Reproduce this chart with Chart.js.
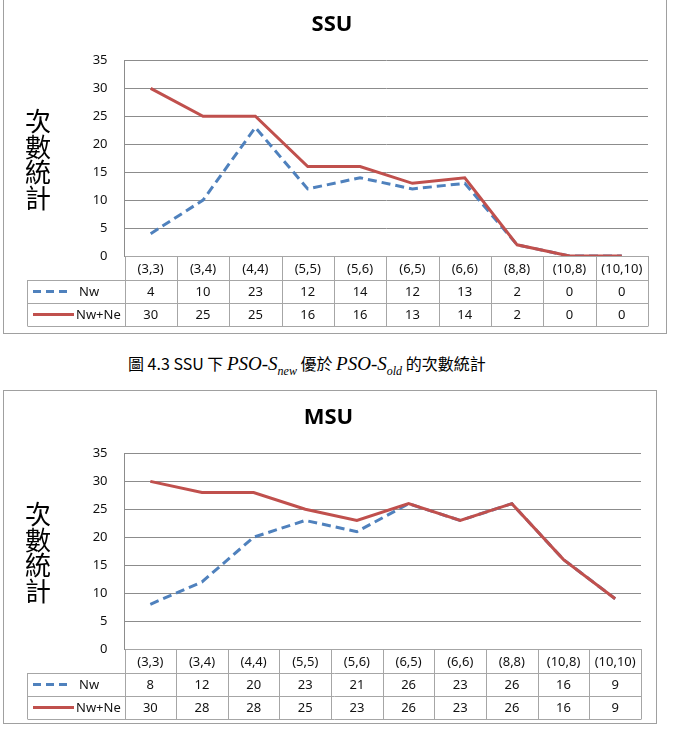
<!DOCTYPE html>
<html>
<head>
<meta charset="utf-8">
<script src="https://cdn.jsdelivr.net/npm/chart.js@4"></script>
<style>
  body { margin: 0; background: #fff; width: 681px; height: 744px; overflow: hidden; position: relative; }
  .box { position: absolute; border: 1px solid #a0a0a0; box-sizing: border-box; }
  .wrap { position: absolute; left: 0; width: 681px; height: 340px; }
  #caption { position: absolute; left: 128px; top: 351px; font-size: 16px; color: #000;
             font-family: "Noto Sans CJK TC", "Noto Sans", sans-serif; white-space: nowrap; }
  #caption i { font-family: "Liberation Serif", serif; font-size: 19px; }
  #caption sub { font-size: 12px; }
</style>
</head>
<body>
<div class="box" style="left:3px;top:-3px;width:664px;height:337px"></div>
<div class="box" style="left:3px;top:390px;width:654px;height:334px"></div>
<div class="wrap" style="top:0"><canvas id="ssu" width="681" height="340"></canvas></div>
<div class="wrap" style="top:393px"><canvas id="msu" width="681" height="340"></canvas></div>
<div id="caption">圖 4.3 SSU 下 <i>PSO-S<sub>new</sub></i> 優於 <i>PSO-S<sub>old</sub></i> 的次數統計</div>
<script>
// 資料
var categories = ["(3,3)", "(3,4)", "(4,4)", "(5,5)", "(5,6)", "(6,5)", "(6,6)", "(8,8)", "(10,8)", "(10,10)"];
var ssuNw   = [4, 10, 23, 12, 14, 12, 13, 2, 0, 0];
var ssuNwNe = [30, 25, 25, 16, 16, 13, 14, 2, 0, 0];
var msuNw   = [8, 12, 20, 23, 21, 26, 23, 26, 16, 9];
var msuNwNe = [30, 28, 28, 25, 23, 26, 23, 26, 16, 9];
var yMin = 0, yMax = 35, yStep = 5;
var seriesNames = ["Nw", "Nw+Ne"];
var yLabel = ["次", "數", "統", "計"];

var BLUE = "#4F81BD", RED = "#C0504D";
var FONT = "'Noto Sans', 'Liberation Sans', sans-serif";

// 畫資料表和縱軸標題
var tablePlugin = {
    id: "dataTable",
    afterDraw: function (chart) {
        var ctx = chart.ctx, a = chart.chartArea, x = chart.scales.x;
        var w = (a.right - a.left) / categories.length;
        var rows = [a.bottom, a.bottom + 24, a.bottom + 47, a.bottom + 70];
        var legL = 27.5;
        var L = Math.round(a.left) + 0.5, R = Math.round(a.right) + 0.5;
        ctx.save();
        ctx.strokeStyle = "#a6a6a6";
        ctx.lineWidth = 1;
        ctx.beginPath();
        // 橫線
        ctx.moveTo(L, Math.round(rows[0]) + 0.5); ctx.lineTo(R, Math.round(rows[0]) + 0.5);
        for (var r = 1; r < 4; r++) {
            ctx.moveTo(legL, Math.round(rows[r]) + 0.5); ctx.lineTo(R, Math.round(rows[r]) + 0.5);
        }
        // 直線
        for (var i = 0; i <= categories.length; i++) {
            var xx = Math.round(a.left + i * w) + 0.5;
            ctx.moveTo(xx, rows[0]); ctx.lineTo(xx, rows[3]);
        }
        ctx.moveTo(legL, rows[1]); ctx.lineTo(legL, rows[3]);
        ctx.stroke();

        ctx.fillStyle = "#111";
        ctx.font = "13px " + FONT;
        ctx.textAlign = "center";
        ctx.textBaseline = "middle";
        var ds = chart.data.datasets;
        categories.forEach(function (c, i) {
            var cx = x.getPixelForValue(i);
            ctx.fillText(c, cx, (rows[0] + rows[1]) / 2 + 1);
            ctx.fillText(String(ds[0].data[i]), cx, (rows[1] + rows[2]) / 2 + 1);
            ctx.fillText(String(ds[1].data[i]), cx, (rows[2] + rows[3]) / 2 + 1);
        });

        // 圖例
        var y1 = (rows[1] + rows[2]) / 2, y2 = (rows[2] + rows[3]) / 2;
        ctx.lineWidth = 3;
        ctx.strokeStyle = BLUE;
        ctx.setLineDash([8, 5]);
        ctx.beginPath(); ctx.moveTo(33, y1); ctx.lineTo(70, y1); ctx.stroke();
        ctx.setLineDash([]);
        ctx.strokeStyle = RED;
        ctx.beginPath(); ctx.moveTo(33, y2); ctx.lineTo(74, y2); ctx.stroke();
        ctx.textAlign = "left";
        ctx.fillText(seriesNames[0], 79, y1 + 1);
        ctx.fillText(seriesNames[1], 76, y2 + 1);

        // 縱軸標題
        ctx.font = "26px 'Noto Sans CJK TC', sans-serif";
        ctx.textAlign = "center";
        ctx.fillStyle = "#000";
        yLabel.forEach(function (ch, i) {
            ctx.fillText(ch, 38, a.top + 61 + i * 25.5);
        });
        ctx.restore();
    }
};

function makeChart(id, title, nw, nwne, padRight) {
    return new Chart(document.getElementById(id), {
        type: "line",
        data: {
            labels: categories,
            datasets: [
                { label: seriesNames[0], data: nw, borderColor: BLUE, borderWidth: 3, order: 2,
                  borderDash: [9, 5], pointRadius: 0, tension: 0, fill: false },
                { label: seriesNames[1], data: nwne, borderColor: RED, borderWidth: 3, order: 1,
                  pointRadius: 0, tension: 0, fill: false }
            ]
        },
        options: {
            responsive: false,
            animation: false,
            layout: { padding: { left: 16, right: padRight, top: 0, bottom: 84 } },
            plugins: {
                legend: { display: false },
                tooltip: { enabled: false },
                title: {
                    display: true, text: title, color: "#000",
                    font: { family: FONT, size: 22, weight: "bold" },
                    padding: { top: 12, bottom: 22 }
                }
            },
            scales: {
                x: { type: "category", offset: true, display: false },
                y: {
                    min: yMin, max: yMax,
                    ticks: { stepSize: yStep, color: "#111", padding: 17, font: { family: FONT, size: 13 } },
                    grid: { color: "#8c8c8c", drawTicks: false },
                    border: { display: true, color: "#8c8c8c" },
                    afterFit: function (s) { s.width = 108.5; }
                }
            }
        },
        plugins: [tablePlugin]
    });
}

makeChart("ssu", "SSU", ssuNw, ssuNwNe, 33);
makeChart("msu", "MSU", msuNw, msuNwNe, 40);
</script>
</body>
</html>
